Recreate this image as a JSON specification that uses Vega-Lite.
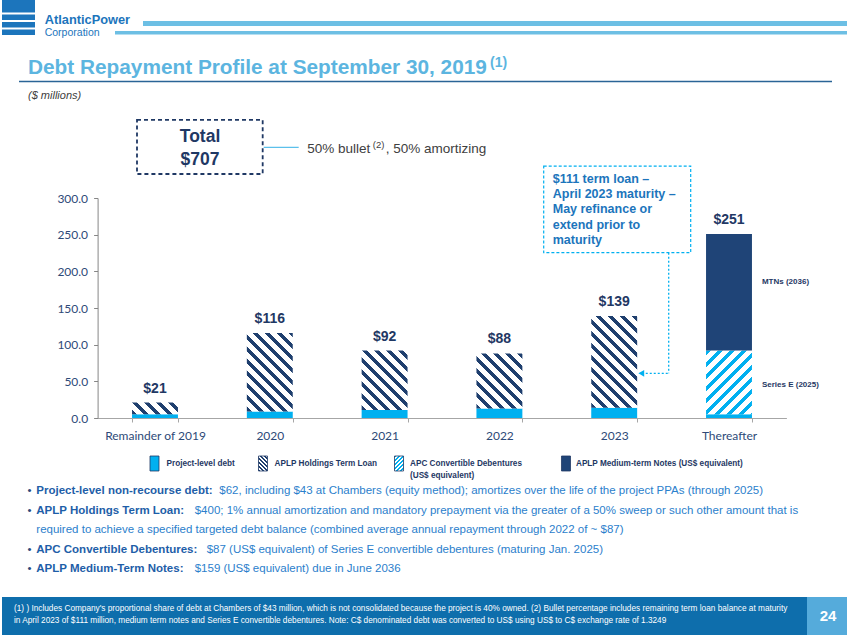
{
  "$schema": "https://vega.github.io/schema/vega-lite/v6.json",
  "padding": 0,
  "spacing": 0,
  "bounds": "flush",
  "background": "white",
  "config": {"view": {"stroke": null}, "font": "Liberation Sans", "axis": {"grid": false}},
  "vconcat": [
    {
      "width": 847,
      "height": 198,
      "data": {"values": [{}]},
      "layer": [
        {"mark": {"type": "rect", "fill": "#1C75BC"},
         "encoding": {"x": {"datum": 0, "scale": {"domain": [0, 847]}, "axis": null}, "x2": {"datum": 33},
                      "y": {"datum": 0, "scale": {"domain": [0, 198], "reverse": true}, "axis": null}, "y2": {"datum": 35}}},
        {"data": {"values": [{"y": 13.5}, {"y": 21}, {"y": 28.5}]},
         "mark": {"type": "rule", "color": "white", "strokeWidth": 2.2},
         "encoding": {"x": {"datum": 0, "scale": {"domain": [0, 847]}, "axis": null}, "x2": {"datum": 33},
                      "y": {"field": "y", "type": "quantitative", "scale": {"domain": [0, 198], "reverse": true}, "axis": null}}},
        {"mark": {"type": "rule", "color": "#6DBFE4", "strokeWidth": 5},
         "encoding": {"x": {"datum": 141, "scale": {"domain": [0, 847]}, "axis": null}, "x2": {"datum": 847},
                      "y": {"datum": 23.5, "scale": {"domain": [0, 198], "reverse": true}, "axis": null}}},
        {"mark": {"type": "rule", "color": "#6DBFE4", "strokeWidth": 3.5},
         "encoding": {"x": {"datum": 113, "scale": {"domain": [0, 847]}, "axis": null}, "x2": {"datum": 847},
                      "y": {"datum": 32.8, "scale": {"domain": [0, 198], "reverse": true}, "axis": null}}},
        {"data": {"values": [{"t": "AtlanticPower"}]},
         "mark": {"type": "text", "align": "left", "baseline": "alphabetic", "font": "Liberation Sans", "fontWeight": "bold", "fontSize": 12.8, "color": "#1C75BC"},
         "encoding": {"text": {"field": "t"}, "x": {"datum": 42.7, "scale": {"domain": [0, 847]}, "axis": null},
                      "y": {"datum": 23.8, "scale": {"domain": [0, 198], "reverse": true}, "axis": null}}},
        {"data": {"values": [{"t": "Corporation"}]},
         "mark": {"type": "text", "align": "left", "baseline": "alphabetic", "font": "Liberation Sans", "fontSize": 10.5, "color": "#1C75BC"},
         "encoding": {"text": {"field": "t"}, "x": {"datum": 42.7, "scale": {"domain": [0, 847]}, "axis": null},
                      "y": {"datum": 36.2, "scale": {"domain": [0, 198], "reverse": true}, "axis": null}}},
        {"data": {"values": [{"t": "Debt Repayment Profile at September 30, 2019"}]},
         "mark": {"type": "text", "align": "left", "baseline": "alphabetic", "font": "Liberation Sans", "fontWeight": "bold", "fontSize": 20.8, "color": "#5CB5E0"},
         "encoding": {"text": {"field": "t"}, "x": {"datum": 26, "scale": {"domain": [0, 847]}, "axis": null},
                      "y": {"datum": 73.5, "scale": {"domain": [0, 198], "reverse": true}, "axis": null}}},
        {"data": {"values": [{"t": "(1)"}]},
         "mark": {"type": "text", "align": "left", "baseline": "alphabetic", "font": "Liberation Sans", "fontWeight": "bold", "fontSize": 14, "color": "#5CB5E0"},
         "encoding": {"text": {"field": "t"}, "x": {"datum": 488, "scale": {"domain": [0, 847]}, "axis": null},
                      "y": {"datum": 67, "scale": {"domain": [0, 198], "reverse": true}, "axis": null}}},
        {"mark": {"type": "rule", "color": "#2A6496", "strokeWidth": 1.3},
         "encoding": {"x": {"datum": 17, "scale": {"domain": [0, 847]}, "axis": null}, "x2": {"datum": 830},
                      "y": {"datum": 81.5, "scale": {"domain": [0, 198], "reverse": true}, "axis": null}}},
        {"data": {"values": [{"t": "($ millions)"}]},
         "mark": {"type": "text", "align": "left", "baseline": "alphabetic", "font": "Liberation Sans", "fontStyle": "italic", "fontSize": 11, "color": "#404040"},
         "encoding": {"text": {"field": "t"}, "x": {"datum": 26, "scale": {"domain": [0, 847]}, "axis": null},
                      "y": {"datum": 99, "scale": {"domain": [0, 198], "reverse": true}, "axis": null}}}
      ]
    },
    {
      "width": 847,
      "height": 220,
      "data": {"values": [
        {"period": "Remainder of 2019", "type": "Project-level debt", "value": 5},
        {"period": "Remainder of 2019", "type": "APLP Holdings Term Loan", "value": 16},
        {"period": "2020", "type": "Project-level debt", "value": 9},
        {"period": "2020", "type": "APLP Holdings Term Loan", "value": 107},
        {"period": "2021", "type": "Project-level debt", "value": 11},
        {"period": "2021", "type": "APLP Holdings Term Loan", "value": 81},
        {"period": "2022", "type": "Project-level debt", "value": 13},
        {"period": "2022", "type": "APLP Holdings Term Loan", "value": 75},
        {"period": "2023", "type": "Project-level debt", "value": 14},
        {"period": "2023", "type": "APLP Holdings Term Loan", "value": 125},
        {"period": "Thereafter", "type": "Project-level debt", "value": 5},
        {"period": "Thereafter", "type": "APC Convertible Debentures (US$ equivalent)", "value": 87},
        {"period": "Thereafter", "type": "APLP Medium-term Notes (US$ equivalent)", "value": 159}
      ]},
      "layer": [
        {
          "mark": {"type": "bar"},
          "encoding": {
            "x": {"field": "period", "type": "nominal", "sort": null,
                  "scale": {"domain": ["Remainder of 2019", "2020", "2021", "2022", "2023", "Thereafter"], "range": [95.6, 784.4], "paddingInner": 0.6, "paddingOuter": 0.3},
                  "axis": {"title": null, "tickBand": "extent", "domainColor": "#A6A6A6", "tickColor": "#A6A6A6", "tickSize": 4, "labelPadding": 8, "labelFont": "Lato", "labelFontSize": 12, "labelColor": "#2E4A78", "labelAngle": 0}},
            "y": {"field": "value", "type": "quantitative", "stack": "zero",
                  "scale": {"domain": [0, 300], "nice": false},
                  "axis": {"title": null, "values": [0, 50, 100, 150, 200, 250, 300], "tickCount": 7, "labelOverlap": false, "format": ".1f", "offset": -95.6, "domainColor": "#868686", "tickColor": "#868686", "tickSize": 4, "labelPadding": 6, "labelFont": "Lato", "labelFontSize": 12, "labelColor": "#2E4A78"}},
            "order": {"field": "value", "type": "quantitative", "sort": "ascending"},
            "fill": {
              "field": "type", "type": "nominal",
              "scale": {
                "domain": ["Project-level debt", "APLP Holdings Term Loan", "APC Convertible Debentures (US$ equivalent)", "APLP Medium-term Notes (US$ equivalent)"],
                "range": ["#00B0F0", "#3D5F8F", "#7FD3F5", "#1F4477"]
              },
              "legend": null,
              "condition": [
                {"test": "datum.type === 'APLP Holdings Term Loan' && datum.period === 'Remainder of 2019'",
                 "value": {"gradient": "linear", "x1": 0, "y1": 1, "x2": 3.2708, "y2": 0.1643, "stops": [{"offset":0,"color":"#1F3F6E"},{"offset":0.03125,"color":"#1F3F6E"},{"offset":0.03125,"color":"#FFFFFF"},{"offset":0.075,"color":"#FFFFFF"},{"offset":0.075,"color":"#1F3F6E"},{"offset":0.10625,"color":"#1F3F6E"},{"offset":0.10625,"color":"#FFFFFF"},{"offset":0.15,"color":"#FFFFFF"},{"offset":0.15,"color":"#1F3F6E"},{"offset":0.18125,"color":"#1F3F6E"},{"offset":0.18125,"color":"#FFFFFF"},{"offset":0.225,"color":"#FFFFFF"},{"offset":0.225,"color":"#1F3F6E"},{"offset":0.25625,"color":"#1F3F6E"},{"offset":0.25625,"color":"#FFFFFF"},{"offset":0.3,"color":"#FFFFFF"},{"offset":0.3,"color":"#1F3F6E"},{"offset":0.33125,"color":"#1F3F6E"},{"offset":0.33125,"color":"#FFFFFF"},{"offset":0.375,"color":"#FFFFFF"},{"offset":0.375,"color":"#1F3F6E"},{"offset":0.40625,"color":"#1F3F6E"},{"offset":0.40625,"color":"#FFFFFF"},{"offset":1,"color":"#FFFFFF"}]}},
                {"test": "datum.type === 'APLP Holdings Term Loan' && datum.period === '2020'",
                 "value": {"gradient": "linear", "x1": 0, "y1": 1, "x2": 0.8889, "y2": -0.5189, "stops": [{"offset":0,"color":"#1F3F6E"},{"offset":0.03125,"color":"#1F3F6E"},{"offset":0.03125,"color":"#FFFFFF"},{"offset":0.075,"color":"#FFFFFF"},{"offset":0.075,"color":"#1F3F6E"},{"offset":0.10625,"color":"#1F3F6E"},{"offset":0.10625,"color":"#FFFFFF"},{"offset":0.15,"color":"#FFFFFF"},{"offset":0.15,"color":"#1F3F6E"},{"offset":0.18125,"color":"#1F3F6E"},{"offset":0.18125,"color":"#FFFFFF"},{"offset":0.225,"color":"#FFFFFF"},{"offset":0.225,"color":"#1F3F6E"},{"offset":0.25625,"color":"#1F3F6E"},{"offset":0.25625,"color":"#FFFFFF"},{"offset":0.3,"color":"#FFFFFF"},{"offset":0.3,"color":"#1F3F6E"},{"offset":0.33125,"color":"#1F3F6E"},{"offset":0.33125,"color":"#FFFFFF"},{"offset":0.375,"color":"#FFFFFF"},{"offset":0.375,"color":"#1F3F6E"},{"offset":0.40625,"color":"#1F3F6E"},{"offset":0.40625,"color":"#FFFFFF"},{"offset":0.45,"color":"#FFFFFF"},{"offset":0.45,"color":"#1F3F6E"},{"offset":0.48125,"color":"#1F3F6E"},{"offset":0.48125,"color":"#FFFFFF"},{"offset":0.525,"color":"#FFFFFF"},{"offset":0.525,"color":"#1F3F6E"},{"offset":0.55625,"color":"#1F3F6E"},{"offset":0.55625,"color":"#FFFFFF"},{"offset":0.6,"color":"#FFFFFF"},{"offset":0.6,"color":"#1F3F6E"},{"offset":0.63125,"color":"#1F3F6E"},{"offset":0.63125,"color":"#FFFFFF"},{"offset":0.675,"color":"#FFFFFF"},{"offset":0.675,"color":"#1F3F6E"},{"offset":0.70625,"color":"#1F3F6E"},{"offset":0.70625,"color":"#FFFFFF"},{"offset":0.75,"color":"#FFFFFF"},{"offset":0.75,"color":"#1F3F6E"},{"offset":0.78125,"color":"#1F3F6E"},{"offset":0.78125,"color":"#FFFFFF"},{"offset":0.825,"color":"#FFFFFF"},{"offset":0.825,"color":"#1F3F6E"},{"offset":0.85625,"color":"#1F3F6E"},{"offset":0.85625,"color":"#FFFFFF"},{"offset":0.9,"color":"#FFFFFF"},{"offset":0.9,"color":"#1F3F6E"},{"offset":0.93125,"color":"#1F3F6E"},{"offset":0.93125,"color":"#FFFFFF"},{"offset":1,"color":"#FFFFFF"}]}},
                {"test": "datum.type === 'APLP Holdings Term Loan' && datum.period === '2021'",
                 "value": {"gradient": "linear", "x1": 0, "y1": 1, "x2": 1.3034, "y2": -0.6860, "stops": [{"offset":0,"color":"#1F3F6E"},{"offset":0.03125,"color":"#1F3F6E"},{"offset":0.03125,"color":"#FFFFFF"},{"offset":0.075,"color":"#FFFFFF"},{"offset":0.075,"color":"#1F3F6E"},{"offset":0.10625,"color":"#1F3F6E"},{"offset":0.10625,"color":"#FFFFFF"},{"offset":0.15,"color":"#FFFFFF"},{"offset":0.15,"color":"#1F3F6E"},{"offset":0.18125,"color":"#1F3F6E"},{"offset":0.18125,"color":"#FFFFFF"},{"offset":0.225,"color":"#FFFFFF"},{"offset":0.225,"color":"#1F3F6E"},{"offset":0.25625,"color":"#1F3F6E"},{"offset":0.25625,"color":"#FFFFFF"},{"offset":0.3,"color":"#FFFFFF"},{"offset":0.3,"color":"#1F3F6E"},{"offset":0.33125,"color":"#1F3F6E"},{"offset":0.33125,"color":"#FFFFFF"},{"offset":0.375,"color":"#FFFFFF"},{"offset":0.375,"color":"#1F3F6E"},{"offset":0.40625,"color":"#1F3F6E"},{"offset":0.40625,"color":"#FFFFFF"},{"offset":0.45,"color":"#FFFFFF"},{"offset":0.45,"color":"#1F3F6E"},{"offset":0.48125,"color":"#1F3F6E"},{"offset":0.48125,"color":"#FFFFFF"},{"offset":0.525,"color":"#FFFFFF"},{"offset":0.525,"color":"#1F3F6E"},{"offset":0.55625,"color":"#1F3F6E"},{"offset":0.55625,"color":"#FFFFFF"},{"offset":0.6,"color":"#FFFFFF"},{"offset":0.6,"color":"#1F3F6E"},{"offset":0.63125,"color":"#1F3F6E"},{"offset":0.63125,"color":"#FFFFFF"},{"offset":0.675,"color":"#FFFFFF"},{"offset":0.675,"color":"#1F3F6E"},{"offset":0.70625,"color":"#1F3F6E"},{"offset":0.70625,"color":"#FFFFFF"},{"offset":1,"color":"#FFFFFF"}]}},
                {"test": "datum.type === 'APLP Holdings Term Loan' && datum.period === '2022'",
                 "value": {"gradient": "linear", "x1": 0, "y1": 1, "x2": 1.4312, "y2": -0.7142, "stops": [{"offset":0,"color":"#1F3F6E"},{"offset":0.03125,"color":"#1F3F6E"},{"offset":0.03125,"color":"#FFFFFF"},{"offset":0.075,"color":"#FFFFFF"},{"offset":0.075,"color":"#1F3F6E"},{"offset":0.10625,"color":"#1F3F6E"},{"offset":0.10625,"color":"#FFFFFF"},{"offset":0.15,"color":"#FFFFFF"},{"offset":0.15,"color":"#1F3F6E"},{"offset":0.18125,"color":"#1F3F6E"},{"offset":0.18125,"color":"#FFFFFF"},{"offset":0.225,"color":"#FFFFFF"},{"offset":0.225,"color":"#1F3F6E"},{"offset":0.25625,"color":"#1F3F6E"},{"offset":0.25625,"color":"#FFFFFF"},{"offset":0.3,"color":"#FFFFFF"},{"offset":0.3,"color":"#1F3F6E"},{"offset":0.33125,"color":"#1F3F6E"},{"offset":0.33125,"color":"#FFFFFF"},{"offset":0.375,"color":"#FFFFFF"},{"offset":0.375,"color":"#1F3F6E"},{"offset":0.40625,"color":"#1F3F6E"},{"offset":0.40625,"color":"#FFFFFF"},{"offset":0.45,"color":"#FFFFFF"},{"offset":0.45,"color":"#1F3F6E"},{"offset":0.48125,"color":"#1F3F6E"},{"offset":0.48125,"color":"#FFFFFF"},{"offset":0.525,"color":"#FFFFFF"},{"offset":0.525,"color":"#1F3F6E"},{"offset":0.55625,"color":"#1F3F6E"},{"offset":0.55625,"color":"#FFFFFF"},{"offset":0.6,"color":"#FFFFFF"},{"offset":0.6,"color":"#1F3F6E"},{"offset":0.63125,"color":"#1F3F6E"},{"offset":0.63125,"color":"#FFFFFF"},{"offset":0.675,"color":"#FFFFFF"},{"offset":0.675,"color":"#1F3F6E"},{"offset":0.70625,"color":"#1F3F6E"},{"offset":0.70625,"color":"#FFFFFF"},{"offset":1,"color":"#FFFFFF"}]}},
                {"test": "datum.type === 'APLP Holdings Term Loan' && datum.period === '2023'",
                 "value": {"gradient": "linear", "x1": 0, "y1": 1, "x2": 0.6990, "y2": -0.3953, "stops": [{"offset":0,"color":"#1F3F6E"},{"offset":0.03125,"color":"#1F3F6E"},{"offset":0.03125,"color":"#FFFFFF"},{"offset":0.075,"color":"#FFFFFF"},{"offset":0.075,"color":"#1F3F6E"},{"offset":0.10625,"color":"#1F3F6E"},{"offset":0.10625,"color":"#FFFFFF"},{"offset":0.15,"color":"#FFFFFF"},{"offset":0.15,"color":"#1F3F6E"},{"offset":0.18125,"color":"#1F3F6E"},{"offset":0.18125,"color":"#FFFFFF"},{"offset":0.225,"color":"#FFFFFF"},{"offset":0.225,"color":"#1F3F6E"},{"offset":0.25625,"color":"#1F3F6E"},{"offset":0.25625,"color":"#FFFFFF"},{"offset":0.3,"color":"#FFFFFF"},{"offset":0.3,"color":"#1F3F6E"},{"offset":0.33125,"color":"#1F3F6E"},{"offset":0.33125,"color":"#FFFFFF"},{"offset":0.375,"color":"#FFFFFF"},{"offset":0.375,"color":"#1F3F6E"},{"offset":0.40625,"color":"#1F3F6E"},{"offset":0.40625,"color":"#FFFFFF"},{"offset":0.45,"color":"#FFFFFF"},{"offset":0.45,"color":"#1F3F6E"},{"offset":0.48125,"color":"#1F3F6E"},{"offset":0.48125,"color":"#FFFFFF"},{"offset":0.525,"color":"#FFFFFF"},{"offset":0.525,"color":"#1F3F6E"},{"offset":0.55625,"color":"#1F3F6E"},{"offset":0.55625,"color":"#FFFFFF"},{"offset":0.6,"color":"#FFFFFF"},{"offset":0.6,"color":"#1F3F6E"},{"offset":0.63125,"color":"#1F3F6E"},{"offset":0.63125,"color":"#FFFFFF"},{"offset":0.675,"color":"#FFFFFF"},{"offset":0.675,"color":"#1F3F6E"},{"offset":0.70625,"color":"#1F3F6E"},{"offset":0.70625,"color":"#FFFFFF"},{"offset":0.75,"color":"#FFFFFF"},{"offset":0.75,"color":"#1F3F6E"},{"offset":0.78125,"color":"#1F3F6E"},{"offset":0.78125,"color":"#FFFFFF"},{"offset":0.825,"color":"#FFFFFF"},{"offset":0.825,"color":"#1F3F6E"},{"offset":0.85625,"color":"#1F3F6E"},{"offset":0.85625,"color":"#FFFFFF"},{"offset":0.9,"color":"#FFFFFF"},{"offset":0.9,"color":"#1F3F6E"},{"offset":0.93125,"color":"#1F3F6E"},{"offset":0.93125,"color":"#FFFFFF"},{"offset":1,"color":"#FFFFFF"}]}},
                {"test": "datum.type === 'APC Convertible Debentures (US$ equivalent)'",
                 "value": {"gradient": "linear", "x1": 0, "y1": 0, "x2": 1.1890, "y2": 1.6520, "stops": [{"offset":0,"color":"#00B0F0"},{"offset":0.03125,"color":"#00B0F0"},{"offset":0.03125,"color":"#FFFFFF"},{"offset":0.075,"color":"#FFFFFF"},{"offset":0.075,"color":"#00B0F0"},{"offset":0.10625,"color":"#00B0F0"},{"offset":0.10625,"color":"#FFFFFF"},{"offset":0.15,"color":"#FFFFFF"},{"offset":0.15,"color":"#00B0F0"},{"offset":0.18125,"color":"#00B0F0"},{"offset":0.18125,"color":"#FFFFFF"},{"offset":0.225,"color":"#FFFFFF"},{"offset":0.225,"color":"#00B0F0"},{"offset":0.25625,"color":"#00B0F0"},{"offset":0.25625,"color":"#FFFFFF"},{"offset":0.3,"color":"#FFFFFF"},{"offset":0.3,"color":"#00B0F0"},{"offset":0.33125,"color":"#00B0F0"},{"offset":0.33125,"color":"#FFFFFF"},{"offset":0.375,"color":"#FFFFFF"},{"offset":0.375,"color":"#00B0F0"},{"offset":0.40625,"color":"#00B0F0"},{"offset":0.40625,"color":"#FFFFFF"},{"offset":0.45,"color":"#FFFFFF"},{"offset":0.45,"color":"#00B0F0"},{"offset":0.48125,"color":"#00B0F0"},{"offset":0.48125,"color":"#FFFFFF"},{"offset":0.525,"color":"#FFFFFF"},{"offset":0.525,"color":"#00B0F0"},{"offset":0.55625,"color":"#00B0F0"},{"offset":0.55625,"color":"#FFFFFF"},{"offset":0.6,"color":"#FFFFFF"},{"offset":0.6,"color":"#00B0F0"},{"offset":0.63125,"color":"#00B0F0"},{"offset":0.63125,"color":"#FFFFFF"},{"offset":0.675,"color":"#FFFFFF"},{"offset":0.675,"color":"#00B0F0"},{"offset":0.70625,"color":"#00B0F0"},{"offset":0.70625,"color":"#FFFFFF"},{"offset":1,"color":"#FFFFFF"}]}}
              ]
            }
          }
        },
        {
          "transform": [{"aggregate": [{"op": "sum", "field": "value", "as": "total"}], "groupby": ["period"]}],
          "mark": {"type": "text", "font": "Liberation Sans", "fontWeight": "bold", "fontSize": 14, "color": "#1F3864", "baseline": "alphabetic", "dy": -10},
          "encoding": {
            "x": {"field": "period", "type": "nominal", "sort": null},
            "y": {"field": "total", "type": "quantitative", "scale": {"domain": [0, 300], "nice": false}},
            "text": {"field": "total", "type": "quantitative", "format": "$d"}
          }
        },
        {
          "data": {"values": [{}]},
          "mark": {"type": "rect", "fillOpacity": 0, "stroke": "#1F3864", "strokeWidth": 1.8, "strokeDash": [4, 3]},
          "encoding": {
            "x": {"datum": "Remainder of 2019", "bandPosition": 0.108}, "x2": {"datum": "2020", "bandPosition": 0.345},
            "y": {"datum": 406.4, "scale": {"domain": [0, 300], "nice": false}}, "y2": {"datum": 332.7}
          }
        },
        {
          "data": {"values": [{"t": ["Total", "$707"]}]},
          "mark": {"type": "text", "font": "Liberation Sans", "fontWeight": "bold", "fontSize": 17.5, "color": "#1F3864", "align": "center", "baseline": "top", "lineHeight": 22.7},
          "encoding": {
            "text": {"field": "t"},
            "x": {"datum": "Remainder of 2019", "bandPosition": 1.48},
            "y": {"datum": 395.0, "scale": {"domain": [0, 300], "nice": false}}
          }
        },
        {
          "data": {"values": [{}]},
          "mark": {"type": "rule", "color": "#5BC0EB", "strokeWidth": 1.2},
          "encoding": {
            "x": {"datum": "2020", "bandPosition": 0.367}, "x2": {"datum": "2020", "bandPosition": 1.129},
            "y": {"datum": 369.1, "scale": {"domain": [0, 300], "nice": false}}
          }
        },
        {
          "data": {"values": [{"t": "50% bullet"}]},
          "mark": {"type": "text", "font": "Liberation Sans", "fontSize": 13.5, "color": "#404040", "align": "left", "baseline": "alphabetic"},
          "encoding": {"text": {"field": "t"}, "x": {"datum": "2020", "bandPosition": 1.3166}, "y": {"datum": 361.0, "scale": {"domain": [0, 300], "nice": false}}}
        },
        {
          "data": {"values": [{"t": "(2)"}]},
          "mark": {"type": "text", "font": "Liberation Sans", "fontSize": 9.5, "color": "#404040", "align": "left", "baseline": "alphabetic", "dx": 65.5, "dy": -5},
          "encoding": {"text": {"field": "t"}, "x": {"datum": "2020", "bandPosition": 1.3166}, "y": {"datum": 361.0, "scale": {"domain": [0, 300], "nice": false}}}
        },
        {
          "data": {"values": [{"t": ", 50% amortizing"}]},
          "mark": {"type": "text", "font": "Liberation Sans", "fontSize": 13.5, "color": "#404040", "align": "left", "baseline": "alphabetic", "dx": 78.5},
          "encoding": {"text": {"field": "t"}, "x": {"datum": "2020", "bandPosition": 1.3166}, "y": {"datum": 361.0, "scale": {"domain": [0, 300], "nice": false}}}
        },
        {
          "data": {"values": [{}]},
          "mark": {"type": "rect", "fillOpacity": 0, "stroke": "#00B0F0", "strokeWidth": 1.2, "strokeDash": [3, 2]},
          "encoding": {
            "x": {"datum": "2022", "bandPosition": 1.4647}, "x2": {"datum": "Thereafter", "bandPosition": -0.334},
            "y": {"datum": 343.6, "scale": {"domain": [0, 300], "nice": false}}, "y2": {"datum": 225.4}
          }
        },
        {
          "data": {"values": [{"t": ["$111 term loan \u2013", "April 2023 maturity \u2013", "May refinance or", "extend prior to", "maturity"]}]},
          "mark": {"type": "text", "font": "Liberation Sans", "fontWeight": "bold", "fontSize": 12.5, "color": "#1C75BC", "align": "left", "baseline": "top", "lineHeight": 15.3},
          "encoding": {"text": {"field": "t"}, "x": {"datum": "2022", "bandPosition": 1.661}, "y": {"datum": 334.5, "scale": {"domain": [0, 300], "nice": false}}}
        },
        {
          "data": {"values": [{}]},
          "mark": {"type": "rule", "color": "#00B0F0", "strokeWidth": 1.3, "strokeDash": [2, 2]},
          "encoding": {
            "x": {"datum": "2023", "bandPosition": 1.687},
            "y": {"datum": 225.4, "scale": {"domain": [0, 300], "nice": false}}, "y2": {"datum": 60.95}
          }
        },
        {
          "data": {"values": [{}]},
          "mark": {"type": "rule", "color": "#00B0F0", "strokeWidth": 1.3, "strokeDash": [2, 2]},
          "encoding": {
            "x": {"datum": "2023", "bandPosition": 1.1}, "x2": {"datum": "2023", "bandPosition": 1.687},
            "y": {"datum": 60.95, "scale": {"domain": [0, 300], "nice": false}}
          }
        },
        {
          "data": {"values": [{}]},
          "mark": {"type": "point", "shape": "triangle-left", "filled": true, "color": "#00B0F0", "size": 45, "opacity": 1},
          "encoding": {
            "x": {"datum": "2023", "bandPosition": 1.09},
            "y": {"datum": 60.95, "scale": {"domain": [0, 300], "nice": false}}
          }
        },
        {
          "data": {"values": [{"t": "MTNs (2036)", "v": 185.5}, {"t": "Series E (2025)", "v": 45}]},
          "mark": {"type": "text", "font": "Liberation Sans", "fontWeight": "bold", "fontSize": 8, "color": "#1F3864", "align": "left", "baseline": "middle", "dx": 10},
          "encoding": {"text": {"field": "t"}, "x": {"datum": "Thereafter", "bandPosition": 1}, "y": {"field": "v", "type": "quantitative", "scale": {"domain": [0, 300], "nice": false}}}
        },
        {
          "data": {"values": [{}]},
          "mark": {"type": "rect", "fill": "#00B0F0", "stroke": "#1F3864", "strokeWidth": 0.8},
          "encoding": {
            "x": {"datum": "Remainder of 2019", "bandPosition": 0.391}, "x2": {"datum": "Remainder of 2019", "bandPosition": 0.587},
            "y": {"datum": -51.82, "scale": {"domain": [0, 300], "nice": false}}, "y2": {"datum": -72.27}
          }
        },
        {
          "data": {"values": [{}]},
          "mark": {"type": "rect", "stroke": "#1F3864", "strokeWidth": 0.8,
                   "fill": {"gradient": "linear", "x1": 0, "y1": 1, "x2": 0.70588, "y2": -0.17647, "stops": [{"offset":0,"color":"#1F3F6E"},{"offset":0.0833,"color":"#1F3F6E"},{"offset":0.0833,"color":"#FFFFFF"},{"offset":0.1667,"color":"#FFFFFF"},{"offset":0.1667,"color":"#1F3F6E"},{"offset":0.25,"color":"#1F3F6E"},{"offset":0.25,"color":"#FFFFFF"},{"offset":0.3333,"color":"#FFFFFF"},{"offset":0.3333,"color":"#1F3F6E"},{"offset":0.4167,"color":"#1F3F6E"},{"offset":0.4167,"color":"#FFFFFF"},{"offset":0.5,"color":"#FFFFFF"},{"offset":0.5,"color":"#1F3F6E"},{"offset":0.5833,"color":"#1F3F6E"},{"offset":0.5833,"color":"#FFFFFF"},{"offset":0.6667,"color":"#FFFFFF"},{"offset":0.6667,"color":"#1F3F6E"},{"offset":0.75,"color":"#1F3F6E"},{"offset":0.75,"color":"#FFFFFF"},{"offset":0.8333,"color":"#FFFFFF"},{"offset":0.8333,"color":"#1F3F6E"},{"offset":0.9167,"color":"#1F3F6E"},{"offset":0.9167,"color":"#FFFFFF"},{"offset":1,"color":"#FFFFFF"}]}},
          "encoding": {
            "x": {"datum": "2020", "bandPosition": 0.254}, "x2": {"datum": "2020", "bandPosition": 0.45},
            "y": {"datum": -51.82, "scale": {"domain": [0, 300], "nice": false}}, "y2": {"datum": -72.27}
          }
        },
        {
          "data": {"values": [{}]},
          "mark": {"type": "rect", "stroke": "#1F3864", "strokeWidth": 0.8,
                   "fill": {"gradient": "linear", "x1": 0, "y1": 0, "x2": 0.70588, "y2": 1.17647, "stops": [{"offset":0,"color":"#00B0F0"},{"offset":0.0833,"color":"#00B0F0"},{"offset":0.0833,"color":"#FFFFFF"},{"offset":0.1667,"color":"#FFFFFF"},{"offset":0.1667,"color":"#00B0F0"},{"offset":0.25,"color":"#00B0F0"},{"offset":0.25,"color":"#FFFFFF"},{"offset":0.3333,"color":"#FFFFFF"},{"offset":0.3333,"color":"#00B0F0"},{"offset":0.4167,"color":"#00B0F0"},{"offset":0.4167,"color":"#FFFFFF"},{"offset":0.5,"color":"#FFFFFF"},{"offset":0.5,"color":"#00B0F0"},{"offset":0.5833,"color":"#00B0F0"},{"offset":0.5833,"color":"#FFFFFF"},{"offset":0.6667,"color":"#FFFFFF"},{"offset":0.6667,"color":"#00B0F0"},{"offset":0.75,"color":"#00B0F0"},{"offset":0.75,"color":"#FFFFFF"},{"offset":0.8333,"color":"#FFFFFF"},{"offset":0.8333,"color":"#00B0F0"},{"offset":0.9167,"color":"#00B0F0"},{"offset":0.9167,"color":"#FFFFFF"},{"offset":1,"color":"#FFFFFF"}]}},
          "encoding": {
            "x": {"datum": "2021", "bandPosition": 0.716}, "x2": {"datum": "2021", "bandPosition": 0.912},
            "y": {"datum": -51.82, "scale": {"domain": [0, 300], "nice": false}}, "y2": {"datum": -72.27}
          }
        },
        {
          "data": {"values": [{}]},
          "mark": {"type": "rect", "fill": "#1F4477", "stroke": "#1F3864", "strokeWidth": 0.8},
          "encoding": {
            "x": {"datum": "2023", "bandPosition": -0.648}, "x2": {"datum": "2023", "bandPosition": -0.452},
            "y": {"datum": -51.82, "scale": {"domain": [0, 300], "nice": false}}, "y2": {"datum": -72.27}
          }
        },
        {
          "data": {"values": [{"t": "Project-level debt"}]},
          "mark": {"type": "text", "font": "Liberation Sans", "fontWeight": "bold", "fontSize": 8.2, "color": "#1F3864", "align": "left", "baseline": "middle", "dx": 16.5},
          "encoding": {"text": {"field": "t"}, "x": {"datum": "Remainder of 2019", "bandPosition": 0.391}, "y": {"datum": -62.05, "scale": {"domain": [0, 300], "nice": false}}}
        },
        {
          "data": {"values": [{"t": "APLP Holdings Term Loan"}]},
          "mark": {"type": "text", "font": "Liberation Sans", "fontWeight": "bold", "fontSize": 8.2, "color": "#1F3864", "align": "left", "baseline": "middle", "dx": 16},
          "encoding": {"text": {"field": "t"}, "x": {"datum": "2020", "bandPosition": 0.254}, "y": {"datum": -62.05, "scale": {"domain": [0, 300], "nice": false}}}
        },
        {
          "data": {"values": [{"t": ["APC Convertible Debentures", "(US$ equivalent)"]}]},
          "mark": {"type": "text", "font": "Liberation Sans", "fontWeight": "bold", "fontSize": 8.2, "color": "#1F3864", "align": "left", "baseline": "middle", "dx": 15.5, "lineHeight": 12},
          "encoding": {"text": {"field": "t"}, "x": {"datum": "2021", "bandPosition": 0.716}, "y": {"datum": -62.05, "scale": {"domain": [0, 300], "nice": false}}}
        },
        {
          "data": {"values": [{"t": "APLP Medium-term Notes (US$ equivalent)"}]},
          "mark": {"type": "text", "font": "Liberation Sans", "fontWeight": "bold", "fontSize": 8.2, "color": "#1F3864", "align": "left", "baseline": "middle", "dx": 14.5},
          "encoding": {"text": {"field": "t"}, "x": {"datum": "2023", "bandPosition": -0.648}, "y": {"datum": -62.05, "scale": {"domain": [0, 300], "nice": false}}}
        }
      ]
    },
    {
      "width": 847,
      "height": 179,
      "data": {"values": [
        {"line": 1, "bullet": "\u2022", "lead": "Project-level non-recourse debt:", "text": "$62, including $43 at Chambers (equity method); amortizes over the life of the project PPAs (through 2025)"},
        {"line": 2, "bullet": "\u2022", "lead": "APLP Holdings Term Loan:", "text": "$400; 1% annual amortization and mandatory prepayment via the greater of a 50% sweep or such other amount that is"},
        {"line": 3, "bullet": "", "lead": "", "text": "required to achieve a specified targeted debt balance (combined average annual repayment through 2022 of ~ $87)"},
        {"line": 4, "bullet": "\u2022", "lead": "APC Convertible Debentures:", "text": "$87 (US$ equivalent) of Series E convertible debentures (maturing Jan. 2025)"},
        {"line": 5, "bullet": "\u2022", "lead": "APLP Medium-Term Notes:", "text": "$159 (US$ equivalent) due in June 2036"}
      ]},
      "layer": [
        {"mark": {"type": "text", "align": "left", "baseline": "middle", "font": "Liberation Sans", "fontSize": 11.5, "color": "#2A4A7A"},
         "encoding": {"text": {"field": "bullet"}, "x": {"datum": 25.5, "scale": {"domain": [0, 847]}, "axis": null},
                      "y": {"field": "line", "type": "quantitative", "scale": {"domain": [-2.744, 6.436], "reverse": true}, "axis": null}}},
        {"mark": {"type": "text", "align": "left", "baseline": "middle", "font": "Liberation Sans", "fontWeight": "bold", "fontSize": 11.5, "color": "#1E5EA8"},
         "encoding": {"text": {"field": "lead"}, "x": {"datum": 34.3, "scale": {"domain": [0, 847]}, "axis": null},
                      "y": {"field": "line", "type": "quantitative", "scale": {"domain": [-2.744, 6.436], "reverse": true}, "axis": null}}},
        {"transform": [{"filter": "datum.line === 1"}],
         "mark": {"type": "text", "align": "left", "baseline": "middle", "font": "Liberation Sans", "fontSize": 11.5, "color": "#2B80CC"},
         "encoding": {"text": {"field": "text"}, "x": {"datum": 217.3, "scale": {"domain": [0, 847]}, "axis": null},
                      "y": {"field": "line", "type": "quantitative", "scale": {"domain": [-2.744, 6.436], "reverse": true}, "axis": null}}},
        {"transform": [{"filter": "datum.line === 2 || datum.line === 5"}],
         "mark": {"type": "text", "align": "left", "baseline": "middle", "font": "Liberation Sans", "fontSize": 11.5, "color": "#2B80CC"},
         "encoding": {"text": {"field": "text"}, "x": {"datum": 192.7, "scale": {"domain": [0, 847]}, "axis": null},
                      "y": {"field": "line", "type": "quantitative", "scale": {"domain": [-2.744, 6.436], "reverse": true}, "axis": null}}},
        {"transform": [{"filter": "datum.line === 3"}],
         "mark": {"type": "text", "align": "left", "baseline": "middle", "font": "Liberation Sans", "fontSize": 11.5, "color": "#2B80CC"},
         "encoding": {"text": {"field": "text"}, "x": {"datum": 34.3, "scale": {"domain": [0, 847]}, "axis": null},
                      "y": {"field": "line", "type": "quantitative", "scale": {"domain": [-2.744, 6.436], "reverse": true}, "axis": null}}},
        {"transform": [{"filter": "datum.line === 4"}],
         "mark": {"type": "text", "align": "left", "baseline": "middle", "font": "Liberation Sans", "fontSize": 11.5, "color": "#2B80CC"},
         "encoding": {"text": {"field": "text"}, "x": {"datum": 204.7, "scale": {"domain": [0, 847]}, "axis": null},
                      "y": {"field": "line", "type": "quantitative", "scale": {"domain": [-2.744, 6.436], "reverse": true}, "axis": null}}}
      ]
    },
    {
      "width": 847,
      "height": 38,
      "view": {"fill": "#0E6EAC", "stroke": null},
      "layer": [
        {"data": {"values": [{}]},
         "mark": {"type": "rect", "fill": "#55ABDB"},
         "encoding": {"x": {"datum": 805, "scale": {"domain": [0, 847]}, "axis": null}, "x2": {"datum": 847},
                      "y": {"datum": 0, "scale": {"domain": [0, 38], "reverse": true}, "axis": null}, "y2": {"datum": 38}}},
        {"data": {"values": [{"t": "24"}]},
         "mark": {"type": "text", "font": "Liberation Sans", "fontWeight": "bold", "fontSize": 15, "color": "white", "align": "center", "baseline": "middle"},
         "encoding": {"text": {"field": "t"}, "x": {"datum": 826, "scale": {"domain": [0, 847]}, "axis": null},
                      "y": {"datum": 19, "scale": {"domain": [0, 38], "reverse": true}, "axis": null}}},
        {"data": {"values": [{"t": "(1) ) Includes Company's proportional share of debt at Chambers of $43 million, which is not consolidated because the project is 40% owned. (2) Bullet percentage includes remaining term loan balance at maturity"}]},
         "mark": {"type": "text", "font": "Liberation Sans", "fontSize": 8.25, "color": "white", "align": "left", "baseline": "middle"},
         "encoding": {"text": {"field": "t"}, "x": {"datum": 12, "scale": {"domain": [0, 847]}, "axis": null},
                      "y": {"datum": 12, "scale": {"domain": [0, 38], "reverse": true}, "axis": null}}},
        {"data": {"values": [{"t": "in April 2023 of $111 million, medium term notes and Series E convertible debentures.  Note: C$ denominated debt was converted to US$ using US$ to C$ exchange rate of 1.3249"}]},
         "mark": {"type": "text", "font": "Liberation Sans", "fontSize": 8.25, "color": "white", "align": "left", "baseline": "middle"},
         "encoding": {"text": {"field": "t"}, "x": {"datum": 12, "scale": {"domain": [0, 847]}, "axis": null},
                      "y": {"datum": 24, "scale": {"domain": [0, 38], "reverse": true}, "axis": null}}}
      ]
    }
  ]
}
